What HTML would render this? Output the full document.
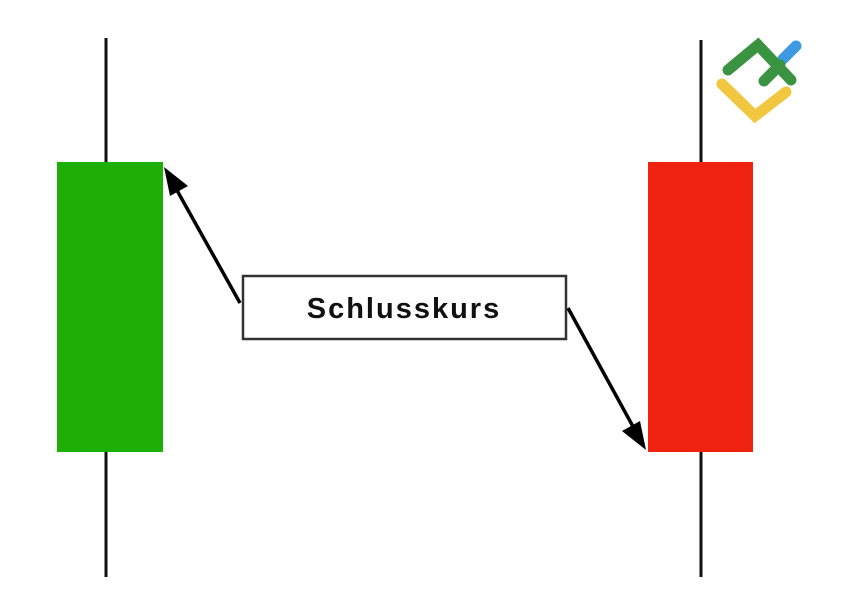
<!DOCTYPE html>
<html><head><style>html,body{margin:0;padding:0;background:#fff;width:841px;height:602px;overflow:hidden}</style></head>
<body>
<svg width="841" height="602" xmlns="http://www.w3.org/2000/svg">
<line x1="106" y1="38" x2="106" y2="577" stroke="#111" stroke-width="3"/>
<line x1="701" y1="40" x2="701" y2="577" stroke="#111" stroke-width="3"/>
<rect x="57" y="162" width="106" height="290" fill="#1daf06"/>
<rect x="648" y="162" width="105" height="290" fill="#ee220f"/>
<line x1="240" y1="303" x2="174" y2="185" stroke="#000" stroke-width="3.5"/>
<polygon points="164,167 188,186 170,196" fill="#000"/>
<line x1="568" y1="308" x2="636" y2="432" stroke="#000" stroke-width="3.5"/>
<polygon points="646,450 622,431 640,421" fill="#000"/>
<rect x="243" y="276" width="323" height="63" fill="#fff" stroke="#333" stroke-width="2.5"/>
<text x="404" y="318" text-anchor="middle" font-family="Liberation Sans, sans-serif" font-size="29" font-weight="bold" letter-spacing="2" fill="#111">Schlusskurs</text>
<g stroke-linecap="round" fill="none" stroke-width="11">
<line x1="783" y1="59" x2="796" y2="46" stroke="#3d9ae0"/>
<polyline points="722,84 755,116 786,92" stroke="#f2c740"/>
<polyline points="728,70 758,45 791,80" stroke="#3a9340"/>
<line x1="764" y1="81" x2="780" y2="65" stroke="#3a9340"/>
</g>
</svg>
</body></html>
